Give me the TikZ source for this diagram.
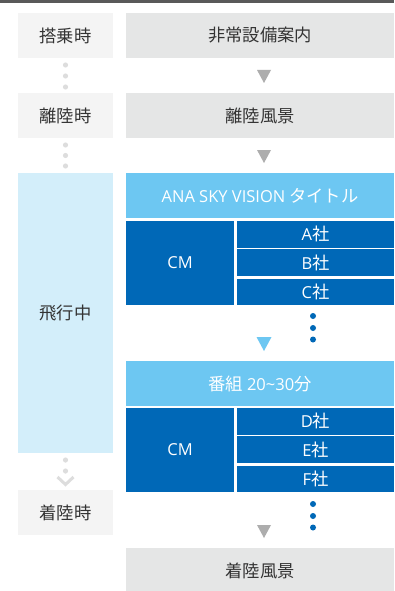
\documentclass[tikz,border=0pt]{standalone}
\usepackage{fontspec}
\setmainfont{Noto Sans CJK JP}
\newfontfamily\lat{Open Sans}
\definecolor{lgray}{HTML}{F4F4F4}
\definecolor{rgray}{HTML}{E5E6E6}
\definecolor{dblue}{HTML}{0068B7}
\definecolor{mblue}{HTML}{6DC7F2}
\definecolor{pblue}{HTML}{D3EEFA}
\definecolor{txt}{HTML}{333333}
\definecolor{tri}{HTML}{ADADAD}
\definecolor{dotg}{HTML}{DDDDDD}
\newcommand{\latn}[1]{{\lat\fontsize{16.5}{18}\selectfont #1}}
\begin{document}
\begin{tikzpicture}[x=1pt,y=-1pt,
  base/.style={rectangle,inner sep=0pt,outer sep=0pt,font=\fontsize{17.3}{19}\selectfont},
  lbox/.style={base,fill=lgray,text=txt,minimum width=95pt,minimum height=45pt},
  rbox/.style={base,fill=rgray,text=txt,minimum width=268pt,minimum height=45pt},
  mbox/.style={base,fill=mblue,text=white,minimum width=268pt,minimum height=45pt},
  cmbox/.style={base,fill=dblue,text=white,minimum width=108pt,minimum height=84pt},
  cell/.style={base,fill=dblue,text=white,minimum width=157pt,minimum height=26.5pt},
  gdot/.style={fill=dotg},
  bdot/.style={fill=dblue},
]
\useasboundingbox (0,0) rectangle (394,591);
\fill[white] (0,0) rectangle (394,591);
\fill[black!65] (0,0) rectangle (394,3);

% row 1
\node[lbox] (l1) at (65.5,35.5) {搭乗時};
\node[rbox] (r1) at (260,35.5) {非常設備案内};
\foreach \y in {65,76,87} \fill[gdot] (65.5,\y) circle (2.6);
\fill[tri] (257,70) -- (271,70) -- (264,83) -- cycle;

% row 2
\node[lbox] (l2) at (65.5,115.5) {離陸時};
\node[rbox] (r2) at (260,115.5) {離陸風景};
\foreach \y in {145,155.5,166} \fill[gdot] (65.5,\y) circle (2.6);
\fill[tri] (257,150) -- (271,150) -- (264,163) -- cycle;

% row 3
\node[lbox,fill=pblue,minimum height=280pt] (l3) at (65.5,313) {飛行中};
\node[mbox] (ana) at (260,195.5) {\latn{ANA SKY VISION} タイトル};
\node[cmbox] (cm1) at (180,263) {\latn{CM}};
\node[cell] (ca) at (315.5,234.25) {\latn{A}社};
\node[cell] (cb) at (315.5,262.5) {\latn{B}社};
\node[cell] (cc) at (315.5,291.75) {\latn{C}社};
\foreach \y in {316,328,339.5} \fill[bdot] (313,\y) circle (3);
\fill[mblue] (256.5,337) -- (271.5,337) -- (264,351) -- cycle;

\node[mbox] (prog) at (260,383.5) {番組 \latn{20\char"007E 30}分};
\node[cmbox] (cm2) at (180,450) {\latn{CM}};
\node[cell] (cd) at (315.5,421.25) {\latn{D}社};
\node[cell] (ce) at (315.5,449.5) {\latn{E}社};
\node[cell] (cf) at (315.5,478.75) {\latn{F}社};
\foreach \y in {504,516,527.5} \fill[bdot] (313,\y) circle (3);
\fill[tri] (257,525) -- (271,525) -- (264,538) -- cycle;

% landing
\foreach \y in {460,471} \fill[gdot] (65.5,\y) circle (2.6);
\draw[dotg,line width=3pt] (57.5,477) -- (65.5,484.5) -- (73.5,477);
\node[lbox] (l4) at (65.5,512.5) {着陸時};
\node[rbox] (r4) at (260,570.5) {着陸風景};
\end{tikzpicture}
\end{document}
